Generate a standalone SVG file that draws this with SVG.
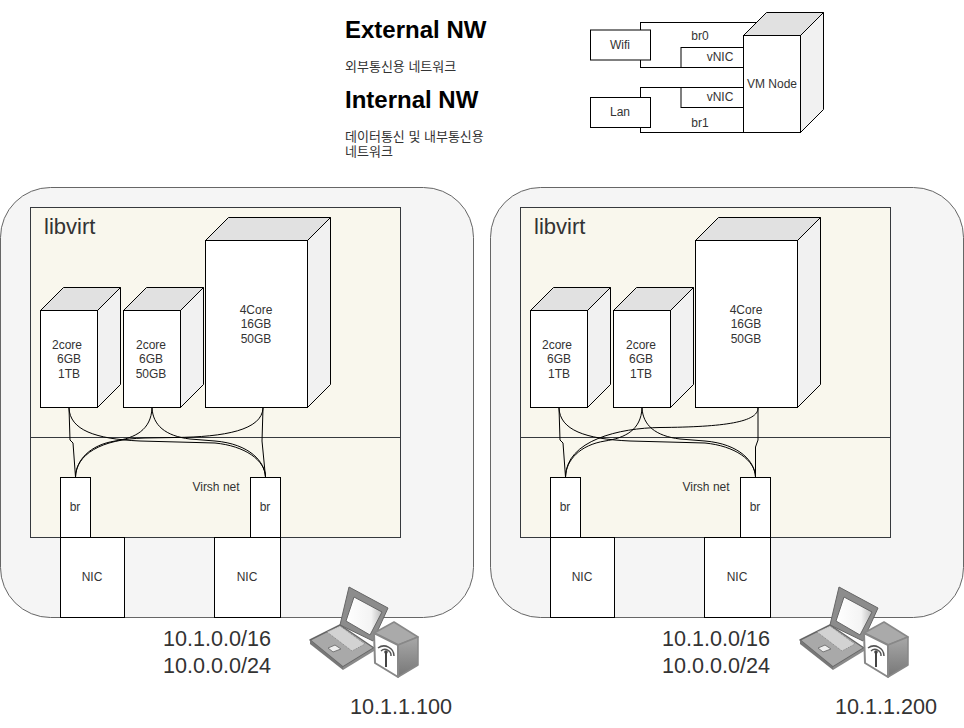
<svg xmlns="http://www.w3.org/2000/svg" width="964" height="728" viewBox="0 0 964 728">
<style>
text{font-family:"Liberation Sans","Noto Sans CJK KR",sans-serif;font-size:12px;fill:#333;text-anchor:middle}
.b{fill:#fff;stroke:#000}
.panel{fill:#f5f5f5;stroke:#666}
.env{fill:#f9f7ed;stroke:#36393d}
.top{fill:#e1e1e1;stroke:#000}
.side{fill:#f1f1f1;stroke:#000}
.w{fill:none;stroke:#000}
.h{font-size:24px;font-weight:bold;fill:#000;text-anchor:start}
.k{text-anchor:start;fill:#333;font-size:13px}
.l{font-size:22px;text-anchor:start}
.ip{font-size:21.6px}
</style>
<defs>
<linearGradient id="g1" x1="0" y1="0" x2="0" y2="1"><stop offset="0" stop-color="#a8a8a8"/><stop offset="1" stop-color="#777"/></linearGradient>
<linearGradient id="g2" x1="0" y1="0" x2="1" y2="0"><stop offset="0" stop-color="#fff"/><stop offset="0.7" stop-color="#f4f4f4"/><stop offset="1" stop-color="#bbb"/></linearGradient>
<g id="icon" stroke-linejoin="round">
<polygon points="349,587 388,608 373,641 340,625" fill="#8c8c8c" stroke="#666"/>
<polygon points="354,597 382,612 370,635 346,621" fill="url(#g2)" stroke="#666"/>
<polygon points="310,640 340,625 374,648 343,667" fill="#a9a9a9" stroke="#666" stroke-width="1.5"/>
<polygon points="310,640 343,667 343,670 310,644" fill="#777"/>
<polygon points="343,667 374,648 374,651 343,670" fill="#8a8a8a"/>
<polygon points="327,632 340,626 365,644 352,651" fill="#d2d2d2" stroke="#888" stroke-dasharray="1 1"/>
<polygon points="328,648 335,645 341,649 333,652" fill="#eee" stroke="#777"/>
<polygon points="374,633 394,622 418,637 398,645" fill="#aaa" stroke="#888" stroke-width="1.5"/>
<polygon points="398,645 418,637 418,665 398,677" fill="url(#g1)" stroke="#888" stroke-width="1.5"/>
<polygon points="374,633 398,645 398,677 375,663" fill="#fff" stroke="#888" stroke-width="2"/>
<path d="M378 648a10 10 0 0 1 16 8M381 651a6 6 0 0 1 10 5" fill="none" stroke="#555" stroke-width="1.5"/>
<path d="M386 651V667" stroke="#444" stroke-width="2"/>
<circle cx="386" cy="652" r="1.8" fill="#444"/>
</g>
</defs>

<g id="legend-text">
<text class="h" x="345" y="38">External NW</text>
<text class="k" x="345" y="71">외부통신용 네트워크</text>
<text class="h" x="345" y="108">Internal NW</text>
<text class="k" x="345" y="141">데이터통신 및 내부통신용</text>
<text class="k" x="345" y="156">네트워크</text>
</g>

<g id="legend-br0"><rect class="b" x="640.5" y="22.5" width="120" height="45"/><text x="700" y="40">br0</text></g>
<g id="legend-vnic0"><rect class="b" x="681" y="47.5" width="70" height="20"/><text x="720" y="61">vNIC</text></g>
<g id="legend-br1"><rect class="b" x="640.5" y="87.5" width="110" height="45"/><text x="700" y="127">br1</text></g>
<g id="legend-vnic1"><rect class="b" x="681" y="87.5" width="70" height="20"/><text x="720" y="101">vNIC</text></g>
<g id="legend-wifi"><rect class="b" x="590.5" y="30" width="60" height="30"/><text x="620" y="49">Wifi</text></g>
<g id="legend-lan"><rect class="b" x="590.5" y="97.5" width="60" height="30"/><text x="620" y="116">Lan</text></g>
<g id="legend-vm">
<polygon class="top" points="743.5,35.5 766.5,12.5 823.5,12.5 800.5,35.5"/>
<polygon class="side" points="800.5,35.5 823.5,12.5 823.5,109.5 800.5,132.5"/>
<rect class="b" x="743.5" y="35.5" width="57" height="97"/>
<text x="772" y="88">VM Node</text>
</g>

<g id="host-left">
<rect class="panel" x="0.5" y="187.5" width="473" height="430" rx="50"/>
<rect class="env" x="30.5" y="207.5" width="370" height="330"/>
<path d="M30.5 437.5H400.5" stroke="#36393d" fill="none"/>
<text class="l" x="44" y="234">libvirt</text>
<text x="216" y="491">Virsh net</text>
</g>
<g id="host-right">
<rect class="panel" x="490.5" y="187.5" width="473" height="430" rx="50"/>
<rect class="env" x="520.5" y="207.5" width="370" height="330"/>
<path d="M520.5 437.5H890.5" stroke="#36393d" fill="none"/>
<text class="l" x="534" y="234">libvirt</text>
<text x="706" y="491">Virsh net</text>
</g>

<g id="connectors">
<path class="w" d="M69 408L70 440L73 443L75.5 477"/>
<path class="w" d="M69 408C70 430 95 439 140 441L215 443C245 446 265 460 265.5 477"/>
<path class="w" d="M152 408C151 430 135 438 115 441C90 445 76 460 75.5 477"/>
<path class="w" d="M152 408C153 425 165 436 190 439L215 441C250 444 265 462 265.5 477"/>
<path class="w" d="M263 408C262 430 225 437 175 437.5L145 438C100 439 76 455 75.5 477"/>
<path class="w" d="M263 408L262 441L265.5 477"/>
<path class="w" d="M559 408L560 440L563 443L565.5 477"/>
<path class="w" d="M559 408C560 430 585 439 630 441L705 443C735 446 755 460 755.5 477"/>
<path class="w" d="M642 408C641 430 625 438 605 441C580 445 566 460 565.5 477"/>
<path class="w" d="M642 408C643 425 655 436 680 439L705 441C740 444 755 462 755.5 477"/>
<path class="w" d="M758 408C758 422 725 427 660 427.5C620 428 566 440 565.5 477"/>
<path class="w" d="M758 408V440L755.5 447V477"/>
</g>

<g id="vm-l1">
<polygon class="top" points="40.5,310.5 63.5,287.5 120.5,287.5 97.5,310.5"/>
<polygon class="side" points="97.5,310.5 120.5,287.5 120.5,384.5 97.5,407.5"/>
<rect class="b" x="40.5" y="310.5" width="57" height="97"/>
<text x="67" y="349">2core</text><text x="69" y="363">6GB</text><text x="69" y="378">1TB</text>
</g>
<g id="vm-l2">
<polygon class="top" points="123.5,310.5 146.5,287.5 203.5,287.5 180.5,310.5"/>
<polygon class="side" points="180.5,310.5 203.5,287.5 203.5,384.5 180.5,407.5"/>
<rect class="b" x="123.5" y="310.5" width="57" height="97"/>
<text x="151" y="349">2core</text><text x="151" y="363">6GB</text><text x="151" y="378">50GB</text>
</g>
<g id="vm-l3">
<polygon class="top" points="205.5,240.5 228.5,217.5 330.5,217.5 307.5,240.5"/>
<polygon class="side" points="307.5,240.5 330.5,217.5 330.5,384.5 307.5,407.5"/>
<rect class="b" x="205.5" y="240.5" width="102" height="167"/>
<text x="256" y="314">4Core</text><text x="256" y="328">16GB</text><text x="256" y="343">50GB</text>
</g>
<g id="vm-r1">
<polygon class="top" points="530.5,310.5 553.5,287.5 610.5,287.5 587.5,310.5"/>
<polygon class="side" points="587.5,310.5 610.5,287.5 610.5,384.5 587.5,407.5"/>
<rect class="b" x="530.5" y="310.5" width="57" height="97"/>
<text x="557" y="349">2core</text><text x="559" y="363">6GB</text><text x="559" y="378">1TB</text>
</g>
<g id="vm-r2">
<polygon class="top" points="613.5,310.5 636.5,287.5 693.5,287.5 670.5,310.5"/>
<polygon class="side" points="670.5,310.5 693.5,287.5 693.5,384.5 670.5,407.5"/>
<rect class="b" x="613.5" y="310.5" width="57" height="97"/>
<text x="641" y="349">2core</text><text x="641" y="363">6GB</text><text x="641" y="378">1TB</text>
</g>
<g id="vm-r3">
<polygon class="top" points="695.5,240.5 718.5,217.5 820.5,217.5 797.5,240.5"/>
<polygon class="side" points="797.5,240.5 820.5,217.5 820.5,384.5 797.5,407.5"/>
<rect class="b" x="695.5" y="240.5" width="102" height="167"/>
<text x="746" y="314">4Core</text><text x="746" y="328">16GB</text><text x="746" y="343">50GB</text>
</g>

<g id="br-l1"><rect class="b" x="60.5" y="477.5" width="30" height="60"/><text x="75" y="511">br</text></g>
<g id="br-l2"><rect class="b" x="250.5" y="477.5" width="30" height="60"/><text x="265" y="511">br</text></g>
<g id="br-r1"><rect class="b" x="550.5" y="477.5" width="30" height="60"/><text x="565" y="511">br</text></g>
<g id="br-r2"><rect class="b" x="740.5" y="477.5" width="30" height="60"/><text x="755" y="511">br</text></g>
<g id="nic-l1"><rect class="b" x="60.5" y="537.5" width="64" height="80"/><text x="92" y="581">NIC</text></g>
<g id="nic-l2"><rect class="b" x="214.5" y="537.5" width="66" height="80"/><text x="247" y="581">NIC</text></g>
<g id="nic-r1"><rect class="b" x="550.5" y="537.5" width="64" height="80"/><text x="582" y="581">NIC</text></g>
<g id="nic-r2"><rect class="b" x="704.5" y="537.5" width="66" height="80"/><text x="737" y="581">NIC</text></g>

<g id="client-left"><use href="#icon"/></g>
<g id="client-right"><use href="#icon" x="490"/></g>

<g id="labels">
<text class="ip" x="217" y="646">10.1.0.0/16</text>
<text class="ip" x="217" y="673">10.0.0.0/24</text>
<text class="ip" x="401" y="714">10.1.1.100</text>
<text class="ip" x="716" y="646">10.1.0.0/16</text>
<text class="ip" x="716" y="673">10.0.0.0/24</text>
<text class="ip" x="886" y="714">10.1.1.200</text>
</g>
</svg>
